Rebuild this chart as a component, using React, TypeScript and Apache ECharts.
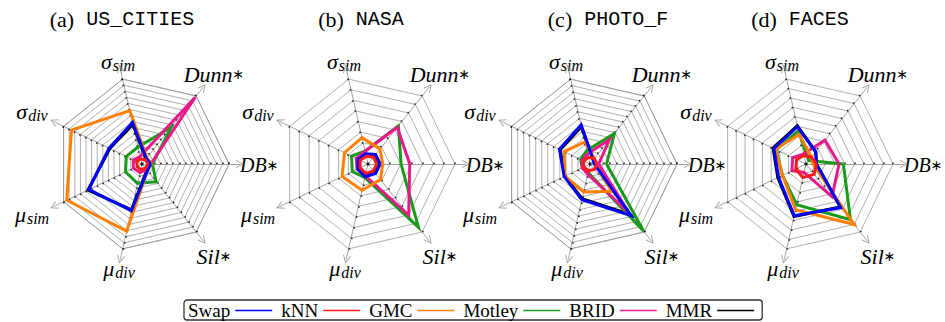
import React, { useEffect, useRef } from 'react';
import * as echarts from 'echarts';

// Radar axes, listed counter-clockwise starting from the right-hand axis.
const AXES = ['DB*', 'Dunn*', 'σ_sim', 'σ_div', 'μ_sim', 'μ_div', 'Sil*'];

const METHODS = ['Swap', 'kNN', 'GMC', 'Motley', 'BRID', 'MMR'];
const METHOD_COLORS = ['#0000ff', '#ff1a1a', '#ff8000', '#1a9a1a', '#e8198b', '#000000'];
// Draw order (bottom to top)
const DRAW_ORDER = ['MMR', 'Motley', 'BRID', 'GMC', 'Swap', 'kNN'];

const PANEL_TAGS = ['(a)', '(b)', '(c)', '(d)'];
const DATASETS = ['US_CITIES', 'NASA', 'PHOTO_F', 'FACES'];

// Normalised scores (0..1) in AXES order: DB*, Dunn*, σsim, σdiv, μsim, μdiv, Sil*
const US_CITIES_SWAP = [0.1, 0.08, 0.49, 0.42, 0.68, 0.55, 0.1];
const US_CITIES_KNN = [0.07, 0.06, 0.06, 0.07, 0.06, 0.07, 0.06];
const US_CITIES_GMC = [0.11, 0.09, 0.63, 0.9, 0.96, 0.79, 0.1];
const US_CITIES_MOTLEY = [0.12, 0.54, 0.2, 0.2, 0.21, 0.23, 0.26];
const US_CITIES_BRID = [0.1, 0.98, 0.09, 0.11, 0.11, 0.1, 0.08];
const US_CITIES_MMR = [0.09, 0.07, 0.47, 0.41, 0.69, 0.54, 0.09];

const NASA_SWAP = [0.14, 0.14, 0.12, 0.125, 0.13, 0.15, 0.14];
const NASA_KNN = [0.1, 0.1, 0.09, 0.1, 0.1, 0.11, 0.1];
const NASA_GMC = [0.17, 0.22, 0.31, 0.3, 0.33, 0.31, 0.23];
const NASA_MOTLEY = [0.38, 0.56, 0.15, 0.21, 0.2, 0.16, 0.93];
const NASA_BRID = [0.48, 0.54, 0.15, 0.15, 0.14, 0.14, 0.75];
const NASA_MMR = [0.13, 0.13, 0.115, 0.12, 0.125, 0.14, 0.13];

const PHOTO_F_SWAP = [0.05, 0.06, 0.46, 0.39, 0.33, 0.42, 0.76];
const PHOTO_F_KNN = [0.08, 0.08, 0.08, 0.08, 0.08, 0.08, 0.08];
const PHOTO_F_GMC = [0.06, 0.08, 0.26, 0.33, 0.32, 0.33, 0.4];
const PHOTO_F_MOTLEY = [0.19, 0.45, 0.16, 0.12, 0.1, 0.1, 0.99];
const PHOTO_F_BRID = [0.1, 0.36, 0.12, 0.1, 0.1, 0.12, 0.72];
const PHOTO_F_MMR = [0.05, 0.06, 0.44, 0.38, 0.32, 0.41, 0.74];

const FACES_SWAP = [0.12, 0.18, 0.44, 0.41, 0.35, 0.61, 0.64];
const FACES_KNN = [0.12, 0.1, 0.1, 0.12, 0.13, 0.16, 0.15];
const FACES_GMC = [0.08, 0.1, 0.35, 0.39, 0.3, 0.54, 0.89];
const FACES_MOTLEY = [0.43, 0.05, 0.39, 0.38, 0.3, 0.48, 0.82];
const FACES_BRID = [0.38, 0.35, 0.12, 0.17, 0.18, 0.1, 0.48];
const FACES_MMR = [0.12, 0.18, 0.45, 0.42, 0.36, 0.62, 0.63];

const SCORES: Record<string, number[]>[] = [
  { Swap: US_CITIES_SWAP, kNN: US_CITIES_KNN, GMC: US_CITIES_GMC, Motley: US_CITIES_MOTLEY, BRID: US_CITIES_BRID, MMR: US_CITIES_MMR },
  { Swap: NASA_SWAP, kNN: NASA_KNN, GMC: NASA_GMC, Motley: NASA_MOTLEY, BRID: NASA_BRID, MMR: NASA_MMR },
  { Swap: PHOTO_F_SWAP, kNN: PHOTO_F_KNN, GMC: PHOTO_F_GMC, Motley: PHOTO_F_MOTLEY, BRID: PHOTO_F_BRID, MMR: PHOTO_F_MMR },
  { Swap: FACES_SWAP, kNN: FACES_KNN, GMC: FACES_GMC, Motley: FACES_MOTLEY, BRID: FACES_BRID, MMR: FACES_MMR },
];

// Layout of the four panels
const CENTERS = [[142, 164], [368, 164], [590, 164], [806, 164]];
const TITLE_X = [122, 361, 608, 800];
const RINGS = [14, 8, 13, 9];
const RADIUS = 87;
const AXIS_RADIUS = 98;
// Where each axis name sits relative to its panel centre (AXES order)
const NAME_OFFSETS = [[98, 1], [72, -90], [-24, -103], [-110, -53], [-110, 50], [-23, 104], [72, 92]];
const NAME_ALIGN = ['left', 'center', 'center', 'center', 'center', 'center', 'center'];

const SERIF = 'Liberation Serif';
const MONO = 'Liberation Mono';

function axisLabel(name: string, k: number): string {
  if (name.includes('_')) {
    const [g, s] = name.split('_');
    return `{g|${g}}{s|${s}}`;
  }
  const base = name.replace('*', '');
  // the right-hand name runs up to the page edge, so it is set a touch tighter
  return k === 0 ? `{gr|${base}}{a|∗}` : `{g|${base}}{a|∗}`;
}

const NAME_RICH = {
  g: { fontFamily: SERIF, fontStyle: 'italic', fontSize: 22, color: '#000' },
  gr: { fontFamily: SERIF, fontStyle: 'italic', fontSize: 20, color: '#000' },
  s: { fontFamily: SERIF, fontStyle: 'italic', fontSize: 16, lineHeight: 16, padding: [9, 0, 0, 1], color: '#000' },
  a: { fontFamily: 'DejaVu Sans', fontSize: 14, color: '#000' },
};

export default function App() {
  const ref = useRef<HTMLDivElement>(null);

  useEffect(() => {
    if (!ref.current) return;
    const chart = echarts.init(ref.current, undefined, { renderer: 'svg' });

    const radars: any[] = [];
    const series: any[] = [];
    const graphic: any[] = [];
    CENTERS.forEach((c, i) => {
      const indicator = AXES.map((name) => ({ name, min: 0, max: 1 }));
      // web and data
      radars.push({
        center: c,
        radius: RADIUS,
        startAngle: 0,
        splitNumber: RINGS[i],
        shape: 'polygon',
        indicator,
        axisName: { show: false },
        axisLine: { show: false },
        axisTick: { show: true, length: 1.5, lineStyle: { color: '#222', width: 1.5 } },
        splitLine: { lineStyle: { color: '#9c9c9c', width: 0.8 } },
        splitArea: { show: false },
      });
      // arrowed axes
      radars.push({
        center: c,
        radius: AXIS_RADIUS,
        startAngle: 0,
        splitNumber: 1,
        shape: 'polygon',
        indicator,
        axisName: { show: false },
        axisLine: {
          lineStyle: { color: '#8a8a8a', width: 0.8 },
          symbol: ['none', 'path://M0,10 L5,0 L10,10 L9,10 L5,2 L1,10 Z'],
          symbolSize: [8, 8],
        },
        splitLine: { show: false },
        splitArea: { show: false },
      });

      series.push({
        type: 'radar',
        radarIndex: 2 * i,
        symbol: 'none',
        silent: true,
        data: DRAW_ORDER.map((m) => {
          const color = METHOD_COLORS[METHODS.indexOf(m)];
          return {
            name: m,
            value: SCORES[i][m],
            symbol: 'none',
            itemStyle: { color },
            lineStyle: { color, width: 3, join: 'miter', miterLimit: 10 },
          };
        }),
      });

      // axis names
      AXES.forEach((name, k) => {
        graphic.push({
          type: 'text',
          x: c[0] + NAME_OFFSETS[k][0],
          y: c[1] + NAME_OFFSETS[k][1],
          silent: true,
          style: {
            text: axisLabel(name, k),
            align: NAME_ALIGN[k],
            verticalAlign: 'middle',
            rich: NAME_RICH,
          },
        });
      });

      // panel title
      graphic.push({
        type: 'text',
        x: TITLE_X[i],
        y: 8,
        silent: true,
        style: {
          text: `{p|${PANEL_TAGS[i]}}{m|${DATASETS[i]}}`,
          align: 'center',
          verticalAlign: 'top',
          rich: {
            p: { fontFamily: SERIF, fontSize: 22, color: '#000', padding: [0, 12, 0, 0] },
            m: { fontFamily: MONO, fontSize: 20, color: '#000' },
          },
        },
      });
    });

    chart.setOption({
      animation: false,
      backgroundColor: '#fff',
      radar: radars,
      series,
      graphic,
      legend: {
        data: METHODS.map((m, k) => ({ name: m, itemStyle: { color: METHOD_COLORS[k] } })),
        left: 184,
        top: 300,
        align: 'right',
        icon: 'rect',
        itemWidth: 37,
        itemHeight: 1.5,
        itemGap: 9,
        padding: [1, 8, 0, 4],
        borderColor: '#333',
        borderWidth: 1.3,
        borderRadius: 3,
        selectedMode: false,
        textStyle: { fontFamily: SERIF, fontSize: 19, color: '#000' },
      },
    });

    return () => chart.dispose();
  }, []);

  return (
    <div
      ref={ref}
      style={{ position: 'absolute', left: 0, top: 0, width: 945, height: 322 }}
    />
  );
}
